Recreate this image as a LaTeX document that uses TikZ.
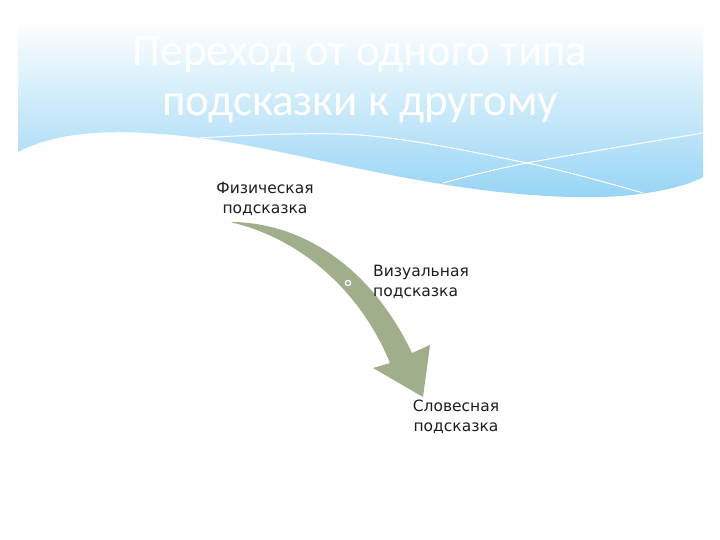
\documentclass[tikz,border=0pt]{standalone}
\usepackage{fontspec}
\setmainfont{DejaVu Sans}
\newfontfamily\titlefont{Carlito}
\newfontfamily\bodyfont{DejaVu Sans}
\definecolor{bandblue}{RGB}{150,212,245}
\definecolor{arrowgreen}{RGB}{160,174,140}
\definecolor{bodytext}{RGB}{30,30,30}
\tikzset{
  titletext/.style={font=\titlefont\fontsize{45}{50}\selectfont, text=white, align=center, inner sep=0pt},
  bodylabel/.style={font=\bodyfont\fontsize{15.5}{20}\selectfont, text=bodytext, inner sep=0pt},
  waveline/.style={draw=white, line width=1pt},
}
\begin{document}
\begin{tikzpicture}[x=1pt,y=-1pt]
\useasboundingbox (0,0) rectangle (720,540);
\fill[white] (0,0) rectangle (720,540);
% blue band
\shade[top color=white, bottom color=bandblue]
  (18,18) -- (703,18) -- (703,177)
  .. controls (690,185) and (650,196) .. (600,197)
  .. controls (450,200) and (300,150) .. (200,138)
  .. controls (120,128) and (60,130) .. (18,152) -- cycle;
% white lines
\draw[waveline] plot[smooth, tension=0.6] coordinates {(200,138) (360,135) (527,163) (643,193)};
\draw[waveline] plot[smooth, tension=0.6] coordinates {(443,183) (527,163) (703,133)};
% title
\node[titletext] (title) at (360,80) {Переход от одного типа\\подсказки к другому};
% arrow
\fill[arrowgreen] (230,222) .. controls (300,222) and (370,265) .. (412,353)
  -- (430,345) -- (423,397) -- (373,368) -- (390,363)
  .. controls (360,290) and (300,238) .. (230,222) -- cycle;
\coordinate (dot) at (348,283);
\draw[white, line width=1.2pt, fill=arrowgreen] (dot) circle (2.6);
% labels
\node[bodylabel, align=center] (phys) at (265,199) {Физическая\\подсказка};
\node[bodylabel, align=left, anchor=west] (vis) at (373,282) {Визуальная\\подсказка};
\node[bodylabel, align=center] (verb) at (456,417) {Словесная\\подсказка};
\end{tikzpicture}
\end{document}
